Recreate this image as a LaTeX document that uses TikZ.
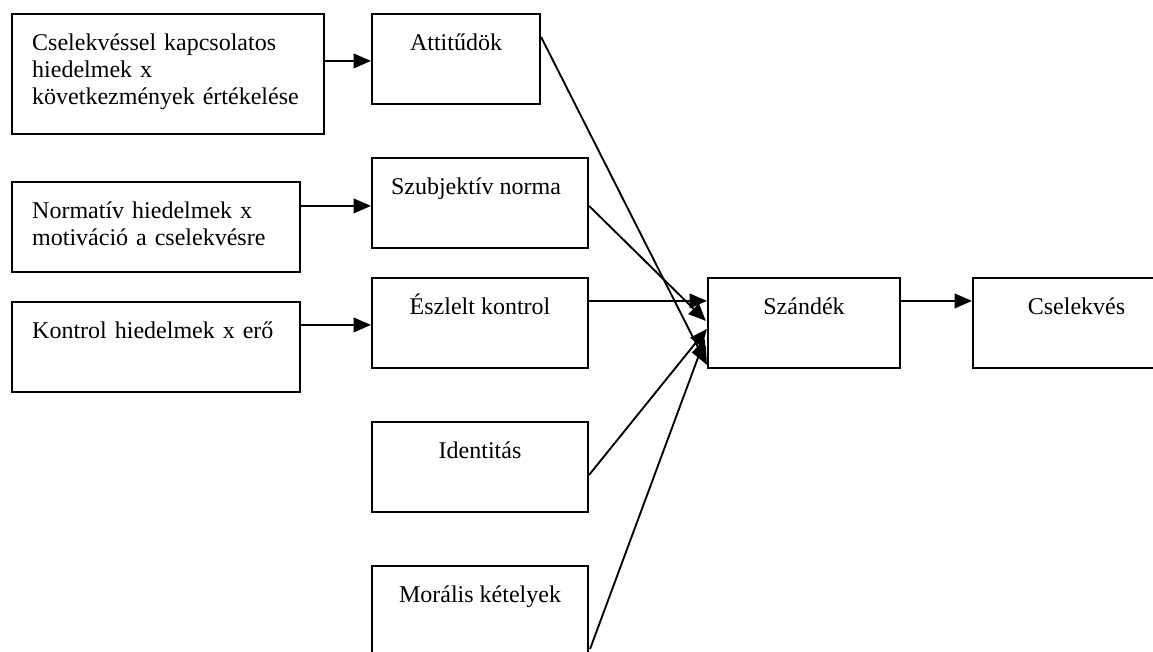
\documentclass[tikz,border=0pt]{standalone}
\usepackage{fontspec}
\setmainfont{Liberation Serif}
\usetikzlibrary{arrows.meta,calc,fit}
\begin{document}
\begin{tikzpicture}[x=0.75pt,y=-0.75pt,
  box/.style={draw,line width=1.6pt,inner sep=0pt,rectangle},
  lbl/.style={inner sep=0pt,font=\fontsize{18pt}{20.25pt}\selectfont},
  leftlbl/.style={lbl,anchor=base west,text width=280pt,align=left},
  midlbl/.style={lbl,anchor=base},
  conn/.style={line width=1.4pt,-{Triangle[length=13pt,width=11pt]}}]
\useasboundingbox (0,0) rectangle (1153,651);
\fill[white] (0,0) rectangle (1153,651);
\clip (0,0) rectangle (1153,651);

% left column: beliefs
\node[box,fit={(12,14) (324,134)}] (cb) {};
\node[leftlbl] (cb-t) at ($(cb.north west)+(21,38)$)
  {Cselekvéssel kapcsolatos\\hiedelmek x\\következmények értékelése};
\node[box,fit={(12,182) (300,272)}] (nh) {};
\node[leftlbl] (nh-t) at ($(nh.north west)+(21,38)$)
  {Normatív hiedelmek x\\motiváció a cselekvésre};
\node[box,fit={(12,302) (300,392)}] (kh) {};
\node[leftlbl] (kh-t) at ($(kh.north west)+(21,38)$)
  {Kontrol hiedelmek x erő};

% middle column: predictors
\node[box,fit={(372,14) (540,104)}] (att) {};
\node[midlbl] (att-t) at ($(att.north)+(0,38)$) {Attitűdök};
\node[box,fit={(372,158) (588,248)}] (szn) {};
\node[midlbl] (szn-t) at ($(szn.north)+(-4,38)$) {Szubjektív norma};
\node[box,fit={(372,278) (588,368)}] (esz) {};
\node[midlbl] (esz-t) at ($(esz.north)+(0,38)$) {Észlelt kontrol};
\node[box,fit={(372,422) (588,512)}] (ide) {};
\node[midlbl] (ide-t) at ($(ide.north)+(0,38)$) {Identitás};
\node[box,fit={(372,566) (588,656)}] (mor) {};
\node[midlbl] (mor-t) at ($(mor.north)+(0,38)$) {Morális kételyek};

% right: intention and behaviour
\node[box,fit={(708,278) (900,368)}] (szd) {};
\node[midlbl] (szd-t) at ($(szd.north)+(0,38)$) {Szándék};
\node[box,fit={(973,278) (1180,368)}] (csk) {};
\node[midlbl] (csk-t) at ($(csk.north)+(0,38)$) {Cselekvés};

% horizontal connectors
\coordinate (h1) at ($(cb.north east)+(0,48)$);
\coordinate (h2) at ($(nh.north east)+(0,25)$);
\coordinate (h3) at ($(kh.north east)+(0,24)$);
\coordinate (h4) at ($(esz.north east)+(0,24)$);
\coordinate (h5) at ($(szd.north east)+(0,24)$);
\draw[conn] (h1) -- (h1 -| att.west);
\draw[conn] (h2) -- (h2 -| szn.west);
\draw[conn] (h3) -- (h3 -| esz.west);
\draw[conn] (h4) -- (h4 -| szd.west);
\draw[conn] (h5) -- (h5 -| csk.west);

% converging connectors into the intention box
\draw[conn] ($(att.north east)+(0,24)$) -- ($(szd.north west)+(0,88)$);
\draw[conn] ($(szn.north east)+(0,49)$) -- ($(szd.north west)+(-1,44)$);
\draw[conn] ($(ide.north east)+(0,54)$) -- ($(szd.north west)+(0,52)$);
\draw[conn] ($(mor.north east)+(1,84)$) -- ($(szd.north west)+(-2,62)$);
\end{tikzpicture}
\end{document}
